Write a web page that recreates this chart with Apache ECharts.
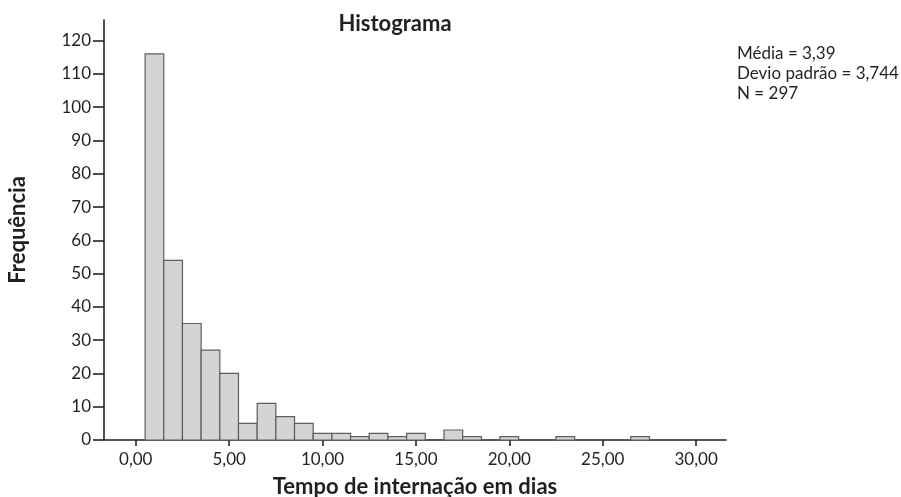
<!DOCTYPE html>
<html>
<head>
<meta charset="utf-8">
<script src="https://cdn.jsdelivr.net/npm/echarts@6/dist/echarts.min.js"></script>
<style>
  html, body { margin: 0; padding: 0; background: #fff; }
  #main { width: 901px; height: 497px; }
</style>
</head>
<body>
<div id="main"></div>
<script>
// dias de internação (centro de cada classe) e frequências
const days = [1, 2, 3, 4, 5, 6, 7, 8, 9, 10, 11, 12, 13, 14, 15, 16, 17, 18, 19, 20, 21, 22, 23, 24, 25, 26, 27];
const counts = [116, 54, 35, 27, 20, 5, 11, 7, 5, 2, 2, 1, 2, 1, 2, 0, 3, 1, 0, 1, 0, 0, 1, 0, 0, 0, 1];
const xTicks = [0, 5, 10, 15, 20, 25, 30];
const yTicks = [0, 10, 20, 30, 40, 50, 60, 70, 80, 90, 100, 110, 120];
const statsLines = ['Média = 3,39', 'Devio padrão = 3,744', 'N = 297'];

const textColor = '#231f20';
const font = 'Lato';

const chart = echarts.init(document.getElementById('main'));

function renderBar(params, api) {
  const x = api.value(0);
  const y = api.value(1);
  if (!y) return;
  const p0 = api.coord([x - 0.5, y]);
  const p1 = api.coord([x + 0.5, 0]);
  return {
    type: 'rect',
    shape: { x: p0[0], y: p0[1], width: p1[0] - p0[0], height: p1[1] - p0[1] },
    style: { fill: '#d4d4d6', stroke: '#5e5e5e', lineWidth: 1.2 }
  };
}

const option = {
  animation: false,
  backgroundColor: '#fff',
  title: {
    text: 'Histograma',
    left: 395,
    textAlign: 'center',
    top: 13,
    padding: 0,
    textStyle: { fontFamily: font, fontWeight: 'bold', fontSize: 22, color: textColor }
  },
  graphic: [{
    type: 'text',
    left: 737,
    top: 44,
    style: {
      text: statsLines.join('\n'),
      font: '17px Lato',
      lineHeight: 20,
      fill: textColor
    }
  }],
  grid: { left: 104, right: 175, top: 20, bottom: 57, outerBoundsMode: 'none' },
  xAxis: {
    type: 'value',
    min: -1.7,
    max: 31.6,
    name: 'Tempo de internação em dias',
    nameLocation: 'middle',
    nameGap: 36,
    nameTextStyle: { fontFamily: font, fontWeight: 'bold', fontSize: 22, color: textColor },
    splitLine: { show: false },
    axisLine: { onZero: false, lineStyle: { color: '#222', width: 1.6 } },
    axisTick: { customValues: xTicks, length: 6, lineStyle: { color: '#222', width: 1.6 } },
    axisLabel: {
      customValues: xTicks,
      margin: 11,
      fontFamily: font,
      fontSize: 17,
      color: textColor,
      formatter: v => v.toFixed(2).replace('.', ',')
    }
  },
  yAxis: {
    type: 'value',
    min: 0,
    max: 126.2,
    name: 'Frequência',
    nameLocation: 'middle',
    nameGap: 75,
    nameTextStyle: { fontFamily: font, fontWeight: 'bold', fontSize: 22, color: textColor },
    splitLine: { show: false },
    axisLine: { show: true, onZero: false, lineStyle: { color: '#222', width: 1.6 } },
    axisTick: { show: true, customValues: yTicks, length: 11, lineStyle: { color: '#222', width: 1.6 } },
    axisLabel: { customValues: yTicks, margin: 13, fontFamily: font, fontSize: 17, color: textColor }
  },
  series: [{
    type: 'custom',
    renderItem: renderBar,
    data: days.map((d, i) => [d, counts[i]]),
    z: 1
  }]
};

chart.setOption(option);
</script>
</body>
</html>
